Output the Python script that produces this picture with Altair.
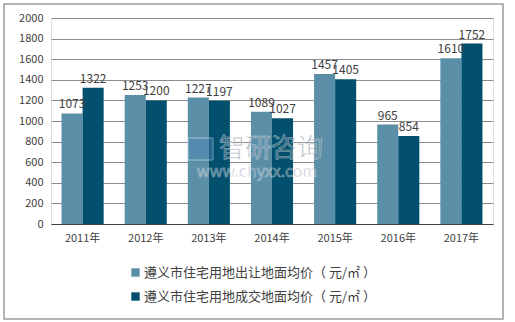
import altair as alt
import pandas as pd

years = ["2011年", "2012年", "2013年", "2014年", "2015年", "2016年", "2017年"]
series_names = ["遵义市住宅用地出让地面均价（ 元/㎡ ）", "遵义市住宅用地成交地面均价（ 元/㎡ ）"]
transfer = [1073, 1253, 1227, 1089, 1457, 965, 1610]
deal = [1322, 1200, 1197, 1027, 1405, 854, 1752]
colors = ["#5b8fa7", "#02506d"]

rows = []
for i, y in enumerate(years):
    rows.append({"year": y, "series": series_names[0], "value": transfer[i]})
    rows.append({"year": y, "series": series_names[1], "value": deal[i]})
df = pd.DataFrame(rows)

FONT = "Noto Sans CJK SC"

xenc = alt.X("year:N", sort=years, title=None,
             scale=alt.Scale(paddingInner=0.333, paddingOuter=0.167),
             axis=alt.Axis(labelAngle=0, labelFontSize=11, labelColor="#404040", labelFont=FONT,
                           domainColor="#404040", ticks=False, labelPadding=8))
yenc = alt.Y("value:Q", title=None,
             scale=alt.Scale(domain=[0, 2000]),
             axis=alt.Axis(values=list(range(0, 2001, 200)), format="d", labelOverlap=False,
                           labelFontSize=11, labelColor="#404040",
                           labelFont=FONT, domain=False, ticks=False, gridColor="#8c8c8c",
                           labelPadding=8))
xoff = alt.XOffset("series:N", sort=series_names)

bars = alt.Chart(df).mark_bar().encode(
    x=xenc,
    xOffset=xoff,
    y=yenc,
    color=alt.Color("series:N", sort=series_names,
                    scale=alt.Scale(domain=series_names, range=colors),
                    legend=alt.Legend(title=None, orient="none", legendX=78, legendY=248,
                                      symbolType="square", symbolSize=70, symbolStrokeWidth=0,
                                      labelFontSize=13, labelFont=FONT, labelColor="#404040",
                                      labelOffset=2, rowPadding=10, labelLimit=400)),
)

labels = alt.Chart(df).mark_text(baseline="bottom", dy=-2, fontSize=12, font=FONT, color="#404040").encode(
    x=xenc,
    xOffset=xoff,
    y=yenc,
    text="value:Q",
)

border = alt.Chart(pd.DataFrame({"a": [0]})).mark_rect(fill=None, stroke="#9a9a9a", strokeWidth=1.5).encode(
    x=alt.value(-47), x2=alt.value(452), y=alt.value(-14), y2=alt.value(301)
)

wm = pd.DataFrame({"t": ["智研咨询", "www.chyxx.com"], "px": [220, 206], "py": [131, 154], "s": [26, 16]})
watermark = alt.Chart(wm).mark_text(color="#6f8397", opacity=0.5, font=FONT, stroke="white",
                                    strokeWidth=0.6).encode(
    x=alt.X("px:Q", scale=None), y=alt.Y("py:Q", scale=None), text="t:N",
    size=alt.Size("s:Q", scale=None, legend=None)
)
logo = alt.Chart(pd.DataFrame({"a": [0]})).mark_rect(fill="#4a86b8", opacity=0.45, stroke="white",
                                                     strokeWidth=1).encode(
    x=alt.value(137), x2=alt.value(162), y=alt.value(120), y2=alt.value(142)
)

chart = alt.layer(bars, labels, logo, watermark, border).properties(
    width=442, height=206,
    autosize=alt.AutoSizeParams(type="none"),
    padding={"left": 51, "top": 18, "right": 22, "bottom": 98},
).configure_view(stroke=None).configure(background="white")

chart.save("out.html", embed_options={"renderer": "svg", "actions": False})
